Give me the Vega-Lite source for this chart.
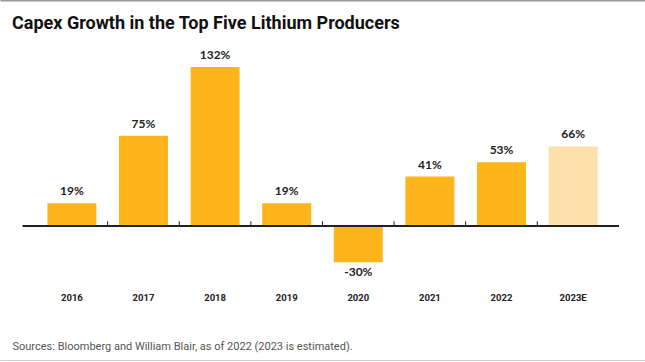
{
  "$schema": "https://vega.github.io/schema/vega-lite/v6.json",
  "width": 645,
  "height": 360,
  "autosize": "none",
  "padding": {"top": 0, "left": 0, "right": 0, "bottom": 2},
  "background": "white",
  "title": {
    "text": "Capex Growth in the Top Five Lithium Producers",
    "anchor": "start",
    "frame": "group",
    "font": "Roboto",
    "fontSize": 18,
    "fontWeight": "bold",
    "color": "#111111",
    "baseline": "alphabetic",
    "offset": -27,
    "dy": 20,
    "dx": 12
  },
  "data": {
    "values": [
      {"year": "2016", "value": 19, "label": "19%", "estimated": "no"},
      {"year": "2017", "value": 75, "label": "75%", "estimated": "no"},
      {"year": "2018", "value": 132, "label": "132%", "estimated": "no"},
      {"year": "2019", "value": 19, "label": "19%", "estimated": "no"},
      {"year": "2020", "value": -30, "label": "-30%", "estimated": "no"},
      {"year": "2021", "value": 41, "label": "41%", "estimated": "no"},
      {"year": "2022", "value": 53, "label": "53%", "estimated": "no"},
      {"year": "2023E", "value": 66, "label": "66%", "estimated": "yes"}
    ]
  },
  "config": {"view": {"stroke": null}},
  "encoding": {
    "x": {
      "field": "year",
      "type": "nominal",
      "sort": null,
      "scale": {"paddingInner": 0.316, "paddingOuter": 0.662},
      "axis": {
        "orient": "bottom",
        "offset": -63,
        "domain": false,
        "ticks": false,
        "tickSize": 0,
        "labelPadding": 0,
        "labelBaseline": "middle",
        "labelAngle": 0,
        "labelFont": "Roboto",
        "labelFontSize": 9.5,
        "labelFontWeight": "bold",
        "labelColor": "#222222",
        "title": "Sources: Bloomberg and William Blair, as of 2022 (2023 is estimated).",
        "titleX": 12,
        "titleY": 49,
        "titleAlign": "left",
        "titleBaseline": "middle",
        "titleFont": "Roboto",
        "titleFontSize": 11,
        "titleFontWeight": "normal",
        "titleColor": "#555555"
      }
    }
  },
  "layer": [
    {
      "mark": {"type": "bar"},
      "encoding": {
        "y": {
          "field": "value",
          "type": "quantitative",
          "scale": {"domain": [-111.1, 187.5], "nice": false, "zero": true},
          "axis": {
            "orient": "left",
            "values": [187.5, -111.1],
            "grid": true,
            "gridColor": {"condition": {"test": "datum.value > 0", "value": "#9a9a9a"}, "value": "#cfcfcf"},
            "gridWidth": {"condition": {"test": "datum.value > 0", "value": 2}, "value": 1},
            "labels": false,
            "ticks": false,
            "domain": false,
            "title": null
          }
        },
        "color": {
          "field": "estimated",
          "type": "nominal",
          "scale": {"domain": ["no", "yes"], "range": ["#FDB51B", "#FEE0AA"]},
          "legend": null
        }
      }
    },
    {
      "mark": {"type": "rule", "color": "#222222", "strokeWidth": 1.5},
      "encoding": {
        "x": {"datum": "2016", "type": "nominal", "bandPosition": -0.5},
        "x2": {"datum": "2023E", "bandPosition": 1.43},
        "y": {"datum": 0, "type": "quantitative"}
      }
    },
    {
      "transform": [{"filter": "datum.year != '2023E'"}],
      "mark": {"type": "rule", "color": "#222222", "strokeWidth": 1},
      "encoding": {
        "x": {"field": "year", "type": "nominal", "sort": null, "bandPosition": 1.23},
        "y": {"datum": 0, "type": "quantitative"},
        "y2": {"datum": 4}
      }
    },
    {
      "transform": [{"filter": "datum.value >= 0"}],
      "mark": {"type": "text", "baseline": "bottom", "dy": -5, "font": "Lato", "fontSize": 12, "fontWeight": "bold", "color": "#222222"},
      "encoding": {
        "y": {"field": "value", "type": "quantitative"},
        "text": {"field": "label"}
      }
    },
    {
      "transform": [{"filter": "datum.value < 0"}],
      "mark": {"type": "text", "baseline": "top", "dy": 5, "font": "Lato", "fontSize": 12, "fontWeight": "bold", "color": "#222222"},
      "encoding": {
        "y": {"field": "value", "type": "quantitative"},
        "text": {"field": "label"}
      }
    }
  ]
}
